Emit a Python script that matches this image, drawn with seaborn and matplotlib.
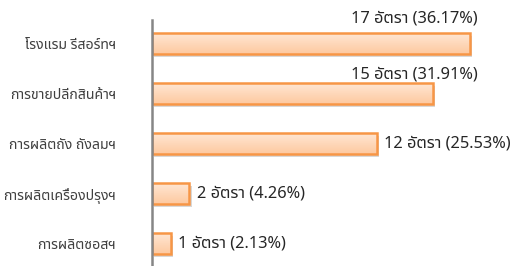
import matplotlib
matplotlib.use("Agg")
import matplotlib.pyplot as plt
import matplotlib.patheffects as pe
from matplotlib.patches import Rectangle
from matplotlib.colors import LinearSegmentedColormap
from matplotlib import font_manager
from matplotlib.ft2font import FT2Font
import numpy as np
import pandas as pd
import seaborn as sns

# -----------------------------
# DATA
# -----------------------------
categories = [
    "โรงแรม รีสอร์ทฯ",
    "การขายปลีกสินค้าฯ",
    "การผลิตถัง ถังลมฯ",
    "การผลิตเครื่องปรุงฯ",
    "การผลิตซอสฯ",
]
counts = [17, 15, 12, 2, 1]
percents = [36.17, 31.91, 25.53, 4.26, 2.13]


# -----------------------------
# FIND A FONT WITH THAI GLYPHS
# -----------------------------
def find_thai_font():
    found = []
    for f in font_manager.fontManager.ttflist:
        try:
            if ord("ก") in FT2Font(f.fname).get_charmap():
                found.append(f.name)
        except Exception:
            pass
    for pref in ["Tahoma", "Noto Sans Thai", "Noto Sans Thai UI", "Loma", "Garuda"]:
        if pref in found:
            return pref
    return found[0] if found else "DejaVu Sans"


sns.set_theme(style="white")
thai_font = find_thai_font()
plt.rcParams["font.family"] = [thai_font, "DejaVu Sans"]

df = pd.DataFrame({"category": categories, "count": counts})

fig = plt.figure(figsize=(5.17, 2.66), dpi=100, facecolor="white")
ax = fig.add_axes([0.294, 0.0, 0.706, 0.925])

sns.barplot(data=df, x="count", y="category", order=categories,
            orient="h", width=0.42, color="#FDDBC0", saturation=1,
            edgecolor="none", linewidth=0, ax=ax)

ax.set_xlim(0, 19.5)
ax.set_ylim(4.44, -0.48)

# ── gradient fill + shadow + orange edge ─────────────────────
grad_cmap = LinearSegmentedColormap.from_list("peach", ["#FFE8D6", "#FDC9A0"])
grad = np.linspace(0, 1, 64).reshape(-1, 1)
for bar in list(ax.patches):
    x0, y0 = bar.get_x(), bar.get_y()
    w, h = bar.get_width(), bar.get_height()
    bar.set_path_effects([pe.SimplePatchShadow(offset=(1.5, -2), alpha=0.3,
                                               shadow_rgbFace="#7F7F7F"),
                          pe.Normal()])
    img = ax.imshow(grad, cmap=grad_cmap, aspect="auto", origin="upper",
                    extent=(x0, x0 + w, y0 + h, y0), zorder=bar.get_zorder() + 0.1)
    img.set_clip_path(bar)
    ax.add_patch(Rectangle((x0, y0), w, h, facecolor="none",
                           edgecolor="#F79646", linewidth=1.8,
                           zorder=bar.get_zorder() + 0.2))

ax.set_xlim(0, 19.5)
ax.set_ylim(4.44, -0.48)

for spine in ["top", "right", "bottom"]:
    ax.spines[spine].set_visible(False)
ax.spines["left"].set_color("#868686")
ax.spines["left"].set_linewidth(1.8)

ax.set_xticks([])
ax.set_xlabel("")
ax.set_ylabel("")
ax.tick_params(axis="y", length=0, pad=26, labelsize=10.2, labelcolor="#404040")

# value labels
for i, (c, p) in enumerate(zip(counts, percents)):
    txt = f"{c} อัตรา ({p:.2f}%)"
    if i == 0:
        ax.text(10.65, i - 0.5, txt, ha="left", va="center",
                fontsize=11.8, color="#262626")
    elif i == 1:
        ax.text(10.65, i - 0.38, txt, ha="left", va="center",
                fontsize=11.8, color="#262626")
    else:
        ax.text(c + 0.4, i, txt, ha="left", va="center",
                fontsize=11.8, color="#262626")

plt.savefig("out.png", dpi=100, facecolor=fig.get_facecolor())
